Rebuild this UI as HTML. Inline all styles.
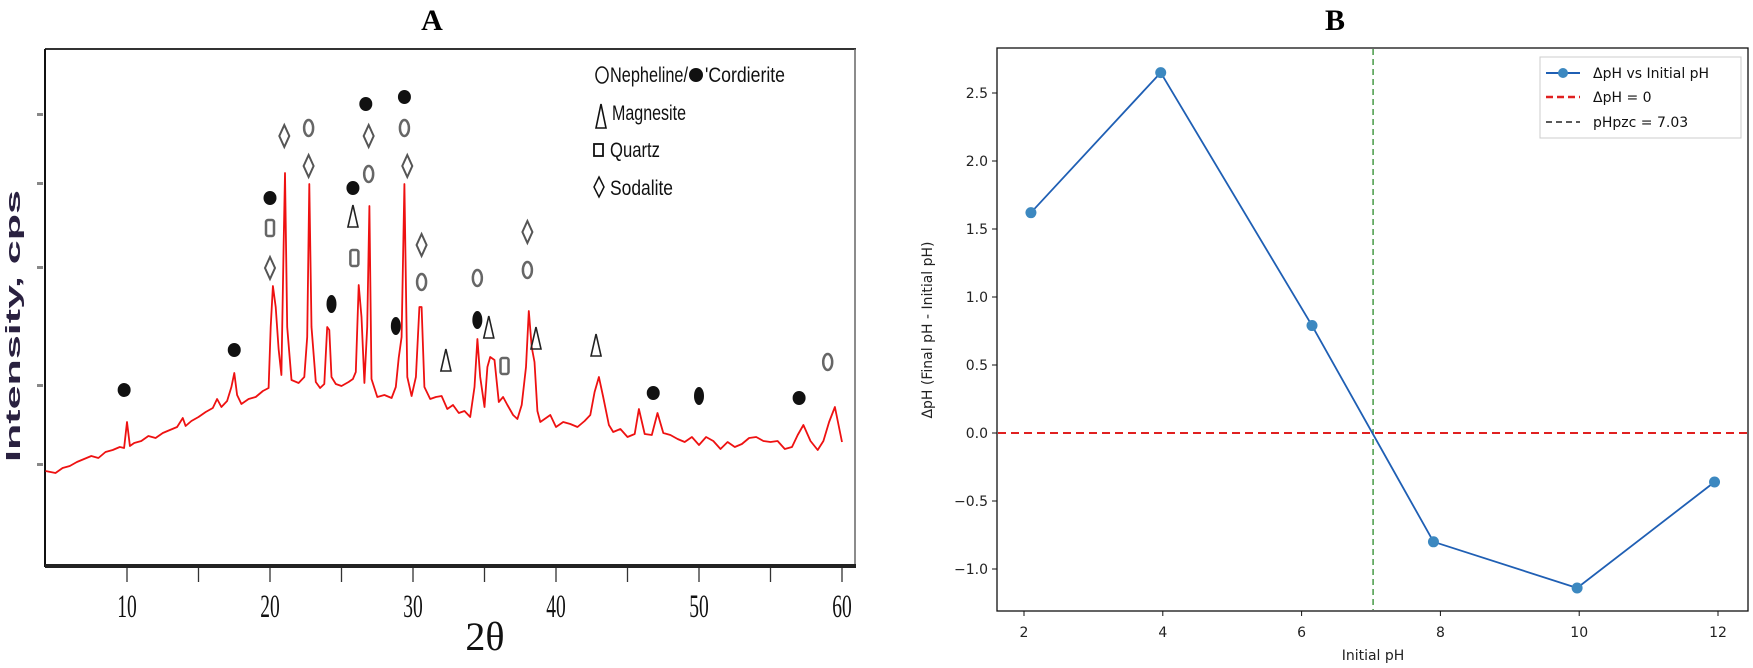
<!DOCTYPE html>
<html><head><meta charset="utf-8"><style>
html,body{margin:0;padding:0;background:#fff;}
svg{display:block;}
</style></head><body>
<svg id="fig" width="1753" height="668" viewBox="0 0 1753 668" xmlns="http://www.w3.org/2000/svg">
<rect width="1753" height="668" fill="#fff"/>
<!-- Panel A -->
<g id="panelA">
  <text x="432" y="30" font-family="Liberation Serif, serif" font-weight="bold" font-size="30" text-anchor="middle">A</text>
  <line x1="45" y1="49" x2="856" y2="49" stroke="#333" stroke-width="2"/>
  <line x1="855" y1="49" x2="855" y2="567" stroke="#666" stroke-width="1.5"/>
  <line x1="45" y1="49" x2="45" y2="567" stroke="#111" stroke-width="2"/>
  <line x1="45" y1="566" x2="856" y2="566" stroke="#222" stroke-width="4"/>
  <g id="aTicks"></g>
  <g id="aYTicks"></g>
  <text transform="translate(20,326) rotate(-90)" font-family="Liberation Sans, sans-serif" font-weight="bold" font-size="20" text-anchor="middle" fill="#2a2140" textLength="272" lengthAdjust="spacingAndGlyphs">Intensity, cps</text>
  <text x="485" y="650" font-family="Liberation Serif, serif" font-size="40" text-anchor="middle" fill="#111">2θ</text>
  <path id="xrdLine" fill="none" stroke="#ee1111" stroke-width="1.8" stroke-linejoin="round"/>
  <g id="markers"></g>
  <g font-family="Liberation Sans, sans-serif" font-size="21" fill="#111">
    <ellipse cx="602" cy="75" rx="6" ry="8" fill="none" stroke="#111" stroke-width="1.5"/>
    <text x="610" y="82" textLength="78" lengthAdjust="spacingAndGlyphs">Nepheline/</text>
    <ellipse cx="696" cy="75" rx="7" ry="7" fill="#111"/>
    <text x="705" y="82" textLength="80" lengthAdjust="spacingAndGlyphs">'Cordierite</text>
    <path d="M601 128 L596 128 L601 104 L606 128 Z" fill="none" stroke="#111" stroke-width="1.6"/>
    <text x="612" y="120" textLength="74" lengthAdjust="spacingAndGlyphs">Magnesite</text>
    <rect x="594" y="144" width="9" height="12" fill="none" stroke="#111" stroke-width="1.8"/>
    <text x="610" y="157" textLength="50" lengthAdjust="spacingAndGlyphs">Quartz</text>
    <path d="M599 177 L604 187 L599 197 L594 187 Z" fill="none" stroke="#111" stroke-width="1.5"/>
    <text x="610" y="195" textLength="63" lengthAdjust="spacingAndGlyphs">Sodalite</text>
  </g>
</g>
<!-- Panel B -->
<g id="panelB">
  <text x="1335" y="30" font-family="Liberation Serif, serif" font-weight="bold" font-size="30" text-anchor="middle">B</text>
  <g id="bAxes"></g>
  <text transform="translate(932,330) rotate(-90)" font-family="DejaVu Sans, sans-serif" font-size="14" text-anchor="middle" fill="#222">ΔpH (Final pH - Initial pH)</text>
  <text x="1373" y="660" font-family="DejaVu Sans, sans-serif" font-size="14" text-anchor="middle" fill="#222">Initial pH</text>
  <g font-family="DejaVu Sans, sans-serif" font-size="14" fill="#111">
    <rect x="1540" y="57" width="201" height="81" fill="#fff" stroke="#ccc" stroke-width="1"/>
    <line x1="1546" y1="73" x2="1580" y2="73" stroke="#1f5fb4" stroke-width="2"/>
    <circle cx="1563" cy="73" r="5" fill="#3c88c0"/>
    <text x="1593" y="78">ΔpH vs Initial pH</text>
    <line x1="1546" y1="97" x2="1580" y2="97" stroke="#e02020" stroke-width="2.5" stroke-dasharray="7,4"/>
    <text x="1593" y="102">ΔpH = 0</text>
    <line x1="1546" y1="122" x2="1580" y2="122" stroke="#222" stroke-width="1.5" stroke-dasharray="6,4"/>
    <text x="1593" y="127">pHpzc = 7.03</text>
  </g>
</g>
</svg>
<script>
// ---- Panel A data (2θ, intensity in arbitrary counts) ----
const xrdTheta = [4.3,5,5.5,6,6.5,7,7.5,8,8.5,9,9.5,9.8,10,10.2,10.5,11,11.5,12,12.5,13,13.5,13.9,14.1,14.5,15,15.5,16,16.3,16.6,17,17.3,17.5,17.7,18,18.5,19,19.5,19.9,20.05,20.2,20.4,20.6,20.8,20.95,21.05,21.2,21.5,22,22.4,22.6,22.75,22.9,23.2,23.5,23.8,24.0,24.15,24.3,24.6,25,25.5,25.8,26.0,26.2,26.4,26.6,26.8,26.95,27.1,27.5,28,28.5,28.8,29.0,29.2,29.4,29.6,29.9,30.2,30.45,30.6,30.8,31.2,31.6,32,32.4,32.8,33.2,33.6,34,34.3,34.5,34.7,35,35.2,35.4,35.7,36,36.3,36.6,37,37.3,37.6,37.9,38.1,38.3,38.5,38.7,38.9,39.2,39.6,40,40.5,41,41.5,42,42.4,42.7,43.0,43.3,43.7,44,44.5,45,45.5,45.8,46.2,46.7,47.1,47.5,48,48.5,49,49.5,50,50.5,51,51.5,52,52.5,53,53.5,54,54.5,55,55.5,56,56.5,56.9,57.3,57.8,58.3,58.7,59.1,59.5,60];
const xrdCounts = [960,940,990,1010,1050,1080,1110,1090,1150,1170,1200,1190,1450,1210,1240,1260,1310,1290,1340,1370,1400,1490,1410,1460,1500,1550,1590,1680,1600,1660,1800,1940,1720,1630,1680,1700,1760,1790,2400,2810,2600,2180,1920,3200,3940,2400,1870,1840,1900,2300,3830,2400,1850,1790,1830,2400,2370,1900,1830,1810,1850,1880,1950,2820,2500,1840,2400,3610,1880,1700,1720,1690,1800,2090,2300,3830,1900,1710,1900,2600,2600,1800,1680,1700,1710,1580,1620,1540,1560,1500,1800,2280,1900,1600,2000,2100,2070,1650,1700,1620,1520,1480,1620,2000,2560,2200,2050,1560,1450,1480,1520,1400,1450,1430,1400,1460,1520,1750,1900,1700,1420,1350,1380,1300,1330,1580,1330,1320,1540,1340,1320,1280,1250,1300,1220,1300,1260,1180,1250,1200,1230,1290,1300,1260,1250,1260,1180,1200,1320,1420,1260,1170,1260,1450,1600,1250,1210,1320];
const xrdTickValues = [10,15,20,25,30,35,40,45,50,55,60];
const xrdTickLabels = ["10","","20","","30","","40","","50","","60"];
// markers: [2θ position, intensity position, type]
const markerTheta = [9.8,17.5,20.0,24.3,25.8,26.7,28.8,29.4,34.5,46.8,50.0,57.0, 21.0,22.7,26.9,29.6,30.6,38.0,20.0, 22.7,26.9,29.4,30.6,34.5,38.0,59.0, 20.0,25.9,36.4, 25.8,32.3,35.3,38.6,42.8];
const markerLevel = [1770,2170,3690,2630,3790,4630,2410,4700,2470,1740,1710,1690, 4310,4010,4310,4010,3220,3350,2990, 4390,3930,4390,2850,2890,2970,2050, 3390,3090,2010, 3500,2060,2390,2280,2210];
const markerType = ["fc","fc","fc","fv","fc","fc","fv","fc","fv","fc","fv","fc", "d","d","d","d","d","d","d", "o","o","o","o","o","o","o", "s","s","s", "t","t","t","t","t"];

// ---- Panel B data ----
const phInitial = [2.1,3.97,6.15,7.9,9.97,11.95];
const phDelta = [1.62,2.65,0.79,-0.8,-1.14,-0.36];
const pzcValue = 7.03;
const bXTicks = [2,4,6,8,10,12];
const bYTicks = [-1.0,-0.5,0.0,0.5,1.0,1.5,2.0,2.5];

const NS = "http://www.w3.org/2000/svg";
function mk(tag, attrs, parent){const e=document.createElementNS(NS,tag);for(const k in attrs)e.setAttribute(k,attrs[k]);parent.appendChild(e);return e;}

// Panel A scales
const ax = t => 127 + (t-10)*14.3;
const ay = c => 567 - c*0.1;
let d = "";
xrdTheta.forEach((t,i)=>{d += (i?"L":"M") + ax(t).toFixed(1) + " " + ay(xrdCounts[i]).toFixed(1) + " ";});
document.getElementById('xrdLine').setAttribute('d', d);

const aT = document.getElementById('aTicks');
xrdTickValues.forEach((v,i)=>{
  const x = ax(v);
  const tk = mk('line',{x1:x,y1:568,x2:x,y2:582,stroke:'#333','stroke-width':1.3},aT);
  
  
  if(xrdTickLabels[i]){
    const tx = mk('text',{x:x,y:617,'font-family':'Liberation Serif, serif','font-size':26,'text-anchor':'middle',fill:'#111',transform:`translate(${x},617) scale(0.75,1.25) translate(${-x},-617)`},aT);
    tx.textContent = xrdTickLabels[i];
    
    
  }
});
const aY = document.getElementById('aYTicks');
[115,184,268,386,465].forEach(y=>{
  const t = mk('rect',{x:37,y:y-2,width:6,height:3,fill:'#888'},aY);
  
  
});

const mG = document.getElementById('markers');
markerTheta.forEach((t,i)=>{
  const x = ax(t), y = ay(markerLevel[i]), ty = markerType[i];
  let e;
  if(ty==="fc") e = mk('ellipse',{cx:x,cy:y,rx:6.5,ry:7,fill:'#111'},mG);
  else if(ty==="fv") e = mk('ellipse',{cx:x,cy:y,rx:5,ry:9,fill:'#111'},mG);
  else if(ty==="d") e = mk('path',{d:`M${x} ${y-11} L${x+5} ${y} L${x} ${y+11} L${x-5} ${y} Z`,fill:'none',stroke:'#555','stroke-width':2},mG);
  else if(ty==="o") e = mk('ellipse',{cx:x,cy:y,rx:4.5,ry:8,fill:'none',stroke:'#666','stroke-width':2.5},mG);
  else if(ty==="s") e = mk('rect',{x:x-4,y:y-8,width:8,height:16,rx:2,fill:'none',stroke:'#666','stroke-width':2.5},mG);
  else e = mk('path',{d:`M${x} ${y-12} L${x+5} ${y+10} L${x-5} ${y+10} Z`,fill:'none',stroke:'#222','stroke-width':1.6},mG);
  
  
});

// Panel B scales
const bx = v => 1024 + (v-2)*69.4;
const by = v => 433 - v*136;
const bA = document.getElementById('bAxes');
const frame = mk('rect',{x:997,y:48,width:751,height:563,fill:'none',stroke:'#111','stroke-width':1.3},bA);


bXTicks.forEach(v=>{
  const x=bx(v);
  const l=mk('line',{x1:x,y1:611,x2:x,y2:616,stroke:'#111'},bA);
  
  
  const t=mk('text',{x:x,y:637,'font-family':'DejaVu Sans, sans-serif','font-size':14,'text-anchor':'middle',fill:'#222'},bA);
  t.textContent=String(v);
  
  
});
bYTicks.forEach(v=>{
  const y=by(v);
  const l=mk('line',{x1:992,y1:y,x2:997,y2:y,stroke:'#111'},bA);
  
  
  const t=mk('text',{x:988,y:y+5,'font-family':'DejaVu Sans, sans-serif','font-size':14,'text-anchor':'end',fill:'#222'},bA);
  t.textContent=(v<0?"−":"")+Math.abs(v).toFixed(1);
  
  
});
const zl = mk('line',{x1:998,y1:by(0),x2:1747,y2:by(0),stroke:'#e02020','stroke-width':2,'stroke-dasharray':'8,5'},bA);


const pl = mk('line',{x1:bx(pzcValue),y1:49,x2:bx(pzcValue),y2:610,stroke:'#2a8a2a','stroke-width':1.3,'stroke-dasharray':'6,4'},bA);


let pd="";
phInitial.forEach((v,i)=>{pd+=(i?"L":"M")+bx(v).toFixed(1)+" "+by(phDelta[i]).toFixed(1)+" ";});
const ln = mk('path',{d:pd,fill:'none',stroke:'#1f5fb4','stroke-width':1.8},bA);


phInitial.forEach((v,i)=>{
  const c=mk('circle',{cx:bx(v),cy:by(phDelta[i]),r:5.5,fill:'#3c88c0'},bA);
  
  
});
</script>
</body></html>
